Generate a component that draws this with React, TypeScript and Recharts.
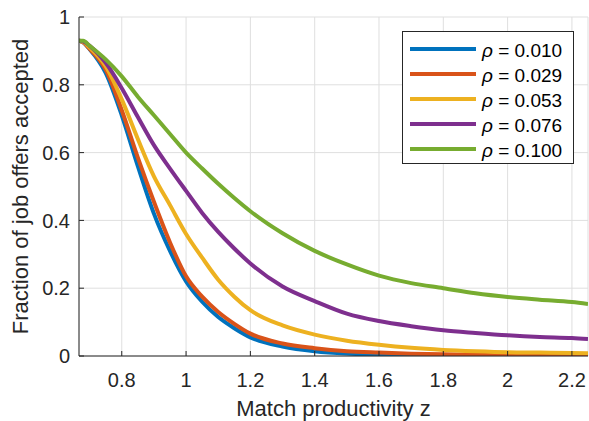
// App.tsx
// Fraction of job offers accepted vs match productivity, one line per rho (Recharts)

import { LineChart, Line, XAxis, YAxis, CartesianGrid, Legend } from 'recharts'

const zValues = [0.667, 0.68, 0.7, 0.75, 0.8, 0.85, 0.9, 0.95, 1.0, 1.05, 1.1, 1.15, 1.2, 1.3, 1.4, 1.5, 1.6, 1.7, 1.8, 1.9, 2.0, 2.1, 2.2, 2.25]

const rho010 = [0.93, 0.925, 0.905, 0.835, 0.71, 0.56, 0.42, 0.31, 0.22, 0.16, 0.115, 0.082, 0.055, 0.028, 0.014, 0.007, 0.004, 0.002, 0.001, 0.0005, 0, 0, 0, 0]
const rho029 = [0.93, 0.925, 0.906, 0.845, 0.725, 0.585, 0.455, 0.335, 0.235, 0.175, 0.13, 0.095, 0.066, 0.037, 0.023, 0.014, 0.01, 0.007, 0.005, 0.004, 0.003, 0.003, 0.002, 0.002]
const rho053 = [0.93, 0.926, 0.91, 0.855, 0.757, 0.64, 0.53, 0.445, 0.36, 0.29, 0.225, 0.175, 0.135, 0.09, 0.063, 0.045, 0.033, 0.024, 0.018, 0.014, 0.011, 0.01, 0.009, 0.008]
const rho076 = [0.93, 0.928, 0.915, 0.865, 0.79, 0.705, 0.622, 0.553, 0.487, 0.422, 0.366, 0.317, 0.273, 0.205, 0.162, 0.125, 0.103, 0.088, 0.076, 0.068, 0.061, 0.056, 0.053, 0.05]
const rho100 = [0.93, 0.93, 0.915, 0.875, 0.825, 0.765, 0.71, 0.655, 0.6, 0.553, 0.508, 0.466, 0.427, 0.362, 0.31, 0.27, 0.237, 0.215, 0.2, 0.185, 0.174, 0.166, 0.159, 0.153]

const seriesNames = ['0.010', '0.029', '0.053', '0.076', '0.100']
const seriesColors = ['#0072BD', '#D95319', '#EDB120', '#7E2F8E', '#77AC30']
const seriesValues = [rho010, rho029, rho053, rho076, rho100]

const xTicks = [0.8, 1, 1.2, 1.4, 1.6, 1.8, 2, 2.2]
const yTicks = [0, 0.2, 0.4, 0.6, 0.8, 1]

const data = zValues.map((z, i) => {
  const row: Record<string, number> = { z }
  seriesNames.forEach((name, k) => {
    row[name] = seriesValues[k][i]
  })
  return row
})

const FONT = '"Liberation Sans", Arial, Helvetica, sans-serif'
const INK = '#262626'

function RhoLegend({ payload }: any) {
  return (
    <div
      style={{
        border: `1px solid ${INK}`,
        background: '#fff',
        boxSizing: 'border-box',
        width: 172,
        height: 133,
        padding: '4px 0',
        fontFamily: FONT,
        fontSize: 19,
        color: '#000',
      }}
    >
      {(payload || []).map((entry: any) => (
        <div key={entry.value} style={{ display: 'flex', alignItems: 'center', height: 25 }}>
          <span style={{ display: 'inline-block', width: 66, height: 4, marginLeft: 7, background: entry.color }} />
          <span style={{ marginLeft: 6, paddingTop: 5, whiteSpace: 'nowrap' }}>
            <i>ρ</i> = {entry.value}
          </span>
        </div>
      ))}
    </div>
  )
}

export default function App() {
  return (
    <div style={{ position: 'absolute', left: 0, top: 0, width: 589, height: 421, background: '#fff' }}>
      <LineChart width={589} height={421} data={data} margin={{ top: 17, right: 1, left: 0, bottom: 0 }}>
        <CartesianGrid stroke="#dfdfdf" strokeWidth={1} />
        <XAxis
          dataKey="z"
          type="number"
          domain={[0.667, 2.25]}
          ticks={xTicks}
          allowDataOverflow
          height={65}
          stroke={INK}
          tickSize={-5}
          tickMargin={22}
          tick={{ fill: INK, fontSize: 20, fontFamily: FONT }}
          label={{ value: 'Match productivity z', position: 'insideBottom', offset: 5, fill: INK, fontSize: 22, fontFamily: FONT }}
        />
        <XAxis
          xAxisId="top"
          orientation="top"
          dataKey="z"
          type="number"
          domain={[0.667, 2.25]}
          ticks={xTicks}
          allowDataOverflow
          height={0}
          stroke={INK}
          tickSize={-5}
          tick={false}
        />
        <YAxis
          type="number"
          domain={[0, 1]}
          ticks={yTicks}
          allowDataOverflow
          width={79}
          stroke={INK}
          tickSize={-5}
          tickMargin={14}
          tick={{ fill: INK, fontSize: 20, fontFamily: FONT }}
          label={{
            value: 'Fraction of job offers accepted',
            angle: -90,
            position: 'insideLeft',
            offset: 20,
            fill: INK,
            fontSize: 22,
            fontFamily: FONT,
            style: { textAnchor: 'middle' },
          }}
        />
        <YAxis
          yAxisId="right"
          orientation="right"
          type="number"
          domain={[0, 1]}
          ticks={yTicks}
          allowDataOverflow
          width={0}
          stroke={INK}
          tickSize={-5}
          tick={false}
        />
        <Legend
          layout="vertical"
          align="center"
          verticalAlign="middle"
          content={<RhoLegend />}
          wrapperStyle={{ left: 402, top: 31, width: 172, height: 133 }}
        />
        {seriesNames.map((name, k) => (
          <Line
            key={name}
            type="monotone"
            dataKey={name}
            name={name}
            stroke={seriesColors[k]}
            strokeWidth={4}
            dot={false}
            isAnimationActive={false}
          />
        ))}
      </LineChart>
    </div>
  )
}
